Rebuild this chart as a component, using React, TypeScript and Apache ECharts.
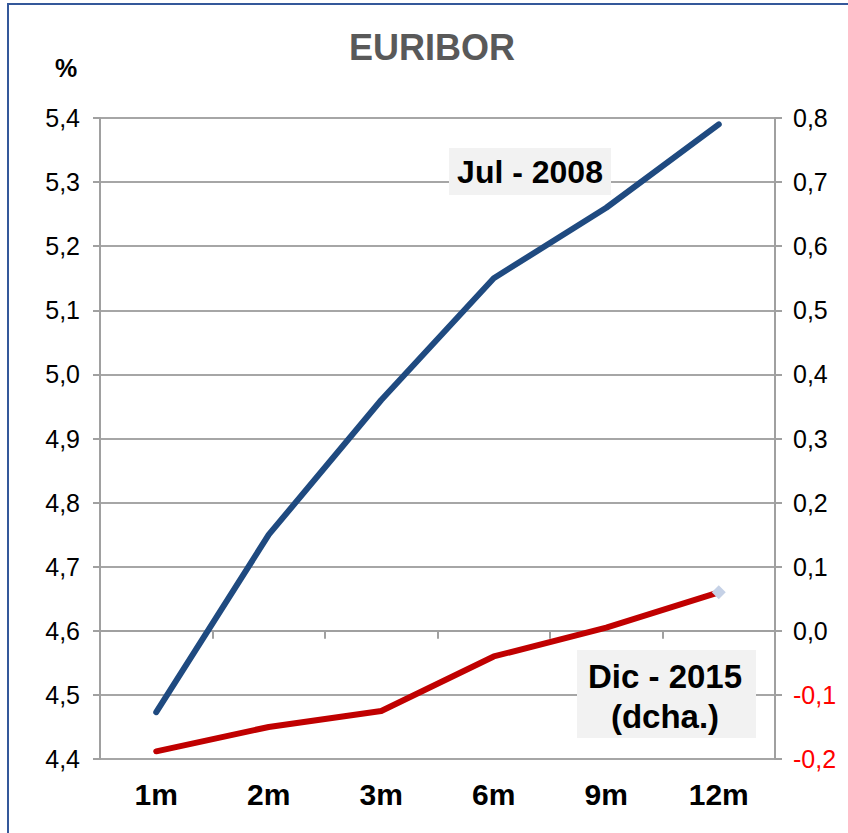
import React, { useEffect, useRef } from "react";
import * as echarts from "echarts";

const categories = ["1m", "2m", "3m", "6m", "9m", "12m"];
const jul2008 = [4.473, 4.75, 4.96, 5.15, 5.26, 5.39];
const dic2015 = [-0.188, -0.15, -0.125, -0.04, 0.005, 0.06];
const titleText = "EURIBOR";
const unitText = "%";
const julLabel = "Jul - 2008";
const dicLabel = "Dic - 2015\n(dcha.)";

const FONT = "'Liberation Sans', Arial, sans-serif";

const fmt = (v: number) => v.toFixed(1).replace(".", ",").replace("-0,0", "0,0");

export default function App() {
  const ref = useRef<HTMLDivElement>(null);
  useEffect(() => {
    document.body.style.margin = "0";
    const chart = echarts.init(ref.current!, undefined, { renderer: "svg" });
    const redData = dic2015.map((v, i) =>
      i === dic2015.length - 1
        ? { value: v, symbol: "diamond", symbolSize: 14, itemStyle: { color: "#c5d1e6" } }
        : { value: v, symbol: "none" }
    );
    chart.setOption({
      animation: false,
      backgroundColor: "#ffffff",
      textStyle: { fontFamily: FONT },
      grid: { left: 100, right: 73, top: 118, bottom: 74 },
      xAxis: {
        type: "category",
        data: categories,
        boundaryGap: true,
        axisLine: { show: true, lineStyle: { color: "#a0a0a0", width: 2 } },
        axisTick: { show: true, length: 8, lineStyle: { color: "#a0a0a0", width: 2 } },
        axisLabel: { color: "#000", fontSize: 30, fontWeight: "bold", margin: 20, fontFamily: FONT },
      },
      yAxis: [
        {
          type: "value",
          min: 4.4,
          max: 5.4,
          interval: 0.1,
          position: "left",
          axisLine: { show: true, lineStyle: { color: "#a0a0a0", width: 2 } },
          axisTick: { show: true, length: 7, lineStyle: { color: "#a0a0a0", width: 2 } },
          splitLine: { show: true, lineStyle: { color: "#a6a6a6", width: 2 } },
          axisLabel: { color: "#000", fontSize: 25, margin: 20, fontFamily: FONT, formatter: (v: number) => fmt(v) },
        },
        {
          type: "value",
          min: -0.2,
          max: 0.8,
          interval: 0.1,
          position: "right",
          axisLine: { show: true, lineStyle: { color: "#a0a0a0", width: 2 } },
          axisTick: { show: true, length: 7, lineStyle: { color: "#a0a0a0", width: 2 } },
          splitLine: { show: false },
          axisLabel: {
            fontSize: 25,
            margin: 18,
            fontFamily: FONT,
            formatter: (v: number) => {
              const s = fmt(v);
              return v < -0.001 ? "{neg|" + s + "}" : "{pos|" + s + "}";
            },
            rich: {
              neg: { color: "#ff0000", fontSize: 25, fontFamily: FONT },
              pos: { color: "#000000", fontSize: 25, fontFamily: FONT },
            },
          },
        },
      ],
      series: [
        {
          name: "Jul - 2008",
          type: "line",
          yAxisIndex: 0,
          data: jul2008,
          symbol: "none",
          lineStyle: { color: "#1f4a80", width: 6, cap: "round", join: "round" },
          z: 3,
        },
        {
          name: "Dic - 2015",
          type: "line",
          yAxisIndex: 1,
          data: redData,
          showSymbol: true,
          lineStyle: { color: "#c00000", width: 6, cap: "round", join: "round" },
          itemStyle: { color: "#c5d1e6" },
          z: 3,
        },
      ],
      graphic: [
        {
          type: "rect",
          shape: { x: 8, y: 4, width: 1000, height: 1000 },
          style: { fill: "none", stroke: "#34589a", lineWidth: 2 },
          z: 10,
        },
        {
          type: "text",
          x: 432,
          y: 47,
          style: {
            text: titleText,
            font: "bold 36px " + FONT,
            fill: "#595959",
            textAlign: "center",
            textVerticalAlign: "middle",
          },
        },
        {
          type: "text",
          x: 66,
          y: 68,
          style: {
            text: unitText,
            font: "bold 25px " + FONT,
            fill: "#000",
            textAlign: "center",
            textVerticalAlign: "middle",
          },
        },
        {
          type: "rect",
          shape: { x: 449, y: 148, width: 162, height: 47 },
          style: { fill: "#f2f2f2" },
          z: 5,
        },
        {
          type: "text",
          x: 530,
          y: 172,
          style: {
            text: julLabel,
            font: "bold 32px " + FONT,
            fill: "#000",
            textAlign: "center",
            textVerticalAlign: "middle",
          },
          z: 6,
        },
        {
          type: "rect",
          shape: { x: 577, y: 650, width: 179, height: 88 },
          style: { fill: "#f2f2f2" },
          z: 5,
        },
        {
          type: "text",
          x: 665,
          y: 696,
          style: {
            text: dicLabel,
            font: "bold 33px " + FONT,
            lineHeight: 40,
            fill: "#000",
            textAlign: "center",
            textVerticalAlign: "middle",
          },
          z: 6,
        },
      ],
    });
    return () => chart.dispose();
  }, []);
  return <div ref={ref} style={{ width: 848, height: 833 }} />;
}
